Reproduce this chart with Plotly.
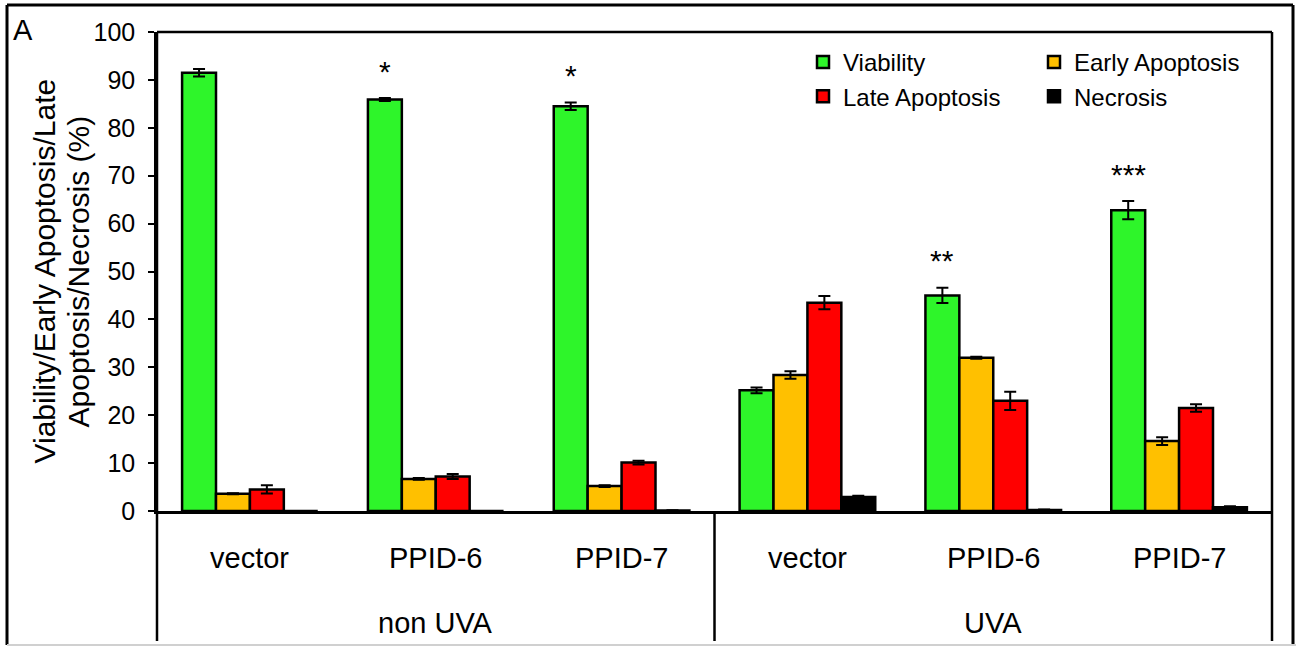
import plotly.graph_objects as go

# ---------------- data ----------------
categories = ["vector", "PPID-6", "PPID-7", "vector", "PPID-6", "PPID-7"]
groups = ["non UVA", "UVA"]
group_sizes = [3, 3]

viability = [91.5, 85.9, 84.5, 25.2, 45.0, 62.8]
viability_err = [0.8, 0.3, 0.8, 0.6, 1.6, 1.9]
early = [3.6, 6.7, 5.2, 28.4, 32.0, 14.6]
early_err = [0.1, 0.2, 0.2, 0.8, 0.2, 0.8]
late = [4.5, 7.2, 10.1, 43.5, 23.0, 21.5]
late_err = [0.85, 0.5, 0.4, 1.4, 1.9, 0.8]
necrosis = [0.0, 0.0, 0.1, 2.9, 0.2, 0.8]
necrosis_err = [0.0, 0.0, 0.05, 0.3, 0.1, 0.2]
significance = ["", "*", "*", "", "**", "***"]

series_names = ["Viability", "Early Apoptosis", "Late Apoptosis", "Necrosis"]
series_vals = [viability, early, late, necrosis]
series_errs = [viability_err, early_err, late_err, necrosis_err]
series_colors = ["#2ef52a", "#ffc000", "#ff0000", "#000000"]
series_legend = ["legend", "legend2", "legend", "legend2"]   # two legend columns

ytitle_lines = ["Viability/Early Apoptosis/Late", "Apoptosis/Necrosis (%)"]

# ---------------- layout constants ----------------
W, H = 1296, 646
ML, MR, MT, MB = 157, 24, 32, 135
PW = W - ML - MR
PH = H - MT - MB
FONT = "Liberation Sans, Arial, sans-serif"
BARGAP = 0.27


def px_x(p):  # pixel -> paper x
    return (p - ML) / PW


def px_y(p):  # pixel -> paper y
    return (H - MB - p) / PH


xpos = list(range(len(categories)))

fig = go.Figure()
for name, vals, errs, col, lg in zip(series_names, series_vals, series_errs,
                                      series_colors, series_legend):
    fig.add_trace(go.Bar(
        x=xpos, y=vals, name=name, legend=lg,
        marker=dict(color=col, line=dict(color="black", width=2.5)),
        error_y=dict(type="data", array=errs, visible=True,
                     color="black", thickness=2, width=6),
    ))

annotations = []
# inner category labels
for i, c in enumerate(categories):
    annotations.append(dict(x=i, y=px_y(558), xref="x", yref="paper", text=c,
                            showarrow=False, font=dict(size=29, color="black", family=FONT),
                            xanchor="center", yanchor="middle"))
# outer group labels
start = 0
for g, n in zip(groups, group_sizes):
    annotations.append(dict(x=start + (n - 1) / 2, y=px_y(623), xref="x", yref="paper",
                            text=g, showarrow=False,
                            font=dict(size=29, color="black", family=FONT),
                            xanchor="center", yanchor="middle"))
    start += n

# significance stars above viability bars
bw = (1 - BARGAP) / len(series_names)
for i, s in enumerate(significance):
    if s:
        annotations.append(dict(x=i - 1.5 * bw, y=viability[i] + viability_err[i],
                                xref="x", yref="y", text=s, showarrow=False,
                                font=dict(size=30, color="black", family=FONT),
                                xanchor="center", yanchor="middle", yshift=27))

# y-axis title (two rotated lines)
for xp, line in zip([44, 78], ytitle_lines):
    annotations.append(dict(x=px_x(xp), y=0.5, xref="paper", yref="paper",
                            text=line, textangle=-90, showarrow=False,
                            font=dict(size=30, color="black", family=FONT),
                            xanchor="center", yanchor="middle"))
# panel letter
annotations.append(dict(x=px_x(11), y=px_y(12), xref="paper", yref="paper", text="A",
                        showarrow=False, font=dict(size=29, color="black", family=FONT),
                        xanchor="left", yanchor="top"))

shapes = []
lw = 2.5
ybot = px_y(641)
# plot frame top
shapes.append(dict(type="line", xref="paper", yref="paper", x0=0, x1=1, y0=1, y1=1,
                   line=dict(color="black", width=lw)))
# left, right extended lines
for xv in [0, 1]:
    shapes.append(dict(type="line", xref="paper", yref="paper", x0=xv, x1=xv, y0=1, y1=ybot,
                       line=dict(color="black", width=lw)))
# group divider
start = 0
for n in group_sizes[:-1]:
    start += n
    shapes.append(dict(type="line", xref="x", yref="paper", x0=start - 0.5, x1=start - 0.5,
                       y0=0, y1=ybot, line=dict(color="black", width=lw)))
# outer frame
ox0, ox1, oy0, oy1 = px_x(7), px_x(1293), px_y(645), px_y(5)
shapes.append(dict(type="line", xref="paper", yref="paper", x0=ox0, x1=ox1, y0=oy1, y1=oy1,
                   line=dict(color="black", width=3)))
shapes.append(dict(type="line", xref="paper", yref="paper", x0=ox0, x1=ox0, y0=oy1, y1=oy0,
                   line=dict(color="black", width=3)))
shapes.append(dict(type="line", xref="paper", yref="paper", x0=ox1, x1=ox1, y0=oy1, y1=oy0,
                   line=dict(color="black", width=3)))
shapes.append(dict(type="line", xref="paper", yref="paper", x0=ox0, x1=px_x(W), y0=oy0, y1=oy0,
                   line=dict(color="#d0d0d0", width=2)))

legend_common = dict(orientation="v", xanchor="left", yanchor="top",
                     font=dict(size=24, color="black", family=FONT),
                     traceorder="normal", bgcolor="rgba(0,0,0,0)", tracegroupgap=0)

fig.update_layout(
    width=W, height=H,
    margin=dict(l=ML, r=MR, t=MT, b=MB, autoexpand=False),
    paper_bgcolor="white", plot_bgcolor="white",
    barmode="group", bargap=BARGAP, bargroupgap=0,
    font=dict(family=FONT, color="black"),
    xaxis=dict(range=[-0.5, len(categories) - 0.5], showticklabels=False, ticks="",
               showgrid=False, zeroline=False, showline=True, linecolor="black",
               linewidth=lw, fixedrange=True),
    yaxis=dict(range=[0, 100], dtick=10, tick0=0, ticks="outside", ticklen=6, tickwidth=2,
               tickcolor="black", showgrid=False, zeroline=False, showline=True,
               linecolor="black", linewidth=lw, ticklabelstandoff=8,
               tickfont=dict(size=25, color="black", family=FONT)),
    legend=dict(x=px_x(803), y=px_y(40), **legend_common),
    legend2=dict(x=px_x(1034), y=px_y(40), **legend_common),
    annotations=annotations, shapes=shapes,
)

fig.write_html("out.html")
